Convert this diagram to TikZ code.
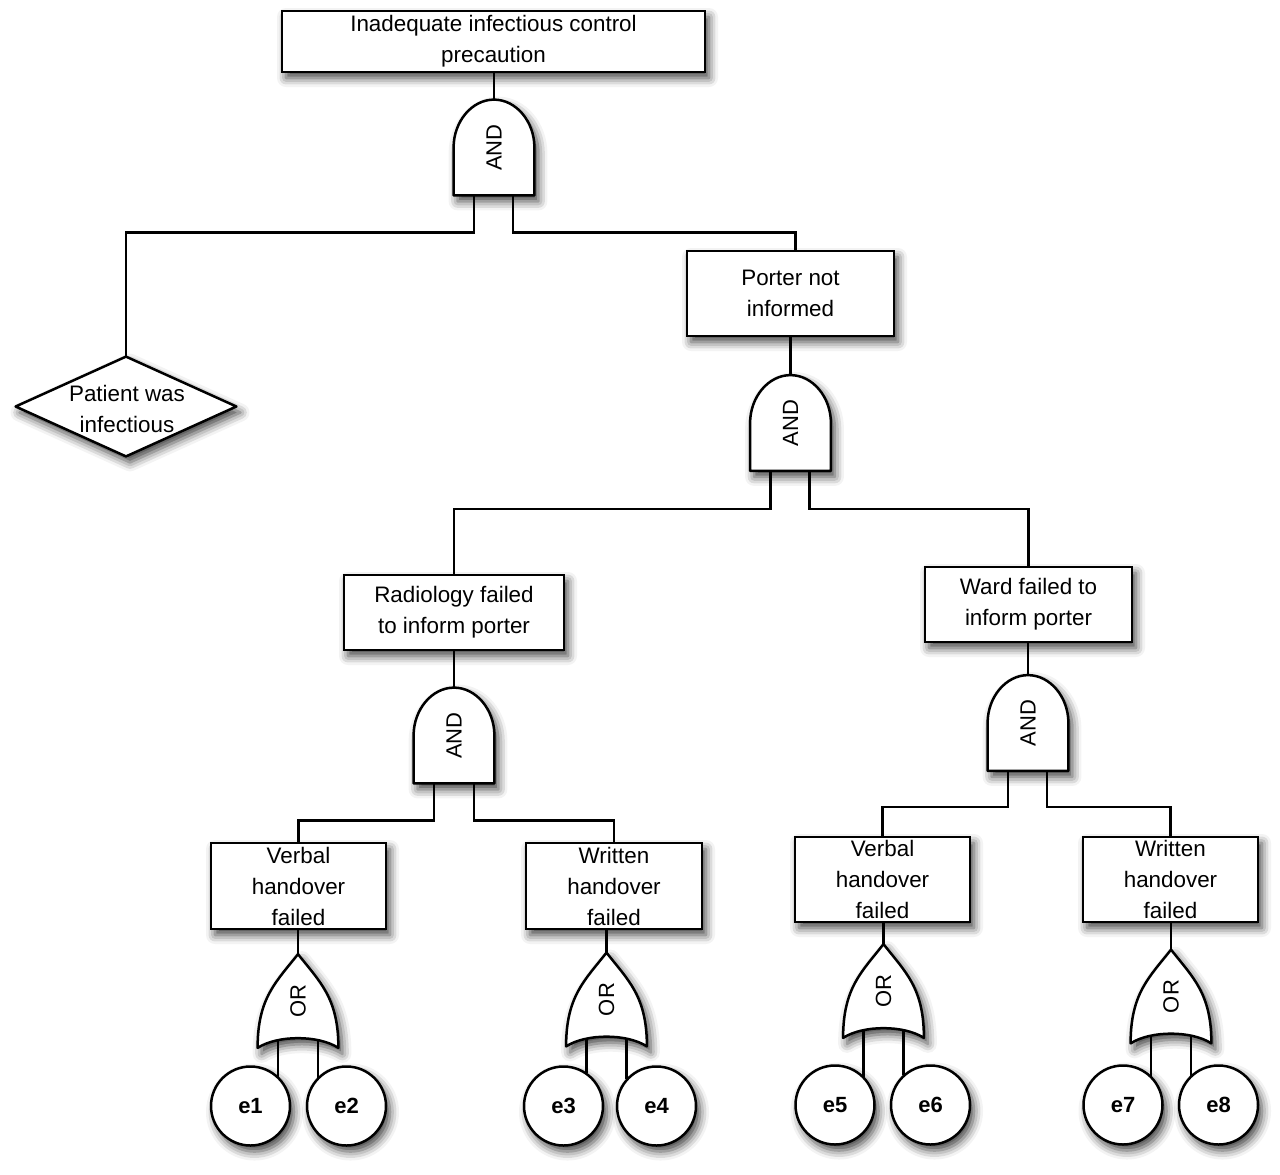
\documentclass[tikz,border=0pt]{standalone}
\usepackage{fontspec}
\setmainfont{Liberation Sans}
\usetikzlibrary{calc,shadows.blur}

\newcommand\AndGate[3]{%
  \node[gatebox] (#1) at (#2,#3) {};
  \path[gateline] (#1.south west) -- ++(0,-48)
     .. controls +(0,-26) and +(-22,0) .. (#1.north)
     .. controls +(22,0) and +(0,-26) .. ($(#1.south east)+(0,-48)$)
     -- (#1.south east) -- cycle;
  \node[gatelabel] at (#1.center) {\rotatebox{90}{AND}};
}
\newcommand\OrGate[3]{%
  \node[gatebox,minimum height=46.5pt] (#1) at (#2,#3) {};
  \path[gateline] (#1.south west)
     .. controls +(0,-50) and +(-22,28) .. (#1.north)
     .. controls +(22,28) and +(0,-50) .. (#1.south east)
     .. controls +(-20,-13) and +(20,-13) .. (#1.south west) -- cycle;
  \node[gatelabel] at (#1.center) {\rotatebox{90}{OR}};
}

\begin{document}
\begin{tikzpicture}[x=0.5pt,y=-0.5pt,
  lw/.style={line width=1.25pt},
  shad/.style={blur shadow={shadow xshift=2pt,shadow yshift=-3pt,shadow blur radius=4.5pt,shadow opacity=75}},
  evbox/.style={draw,lw,fill=white,shad,rectangle,inner sep=0pt,align=center,font=\fontsize{11.2}{15.5}\selectfont},
  gatebox/.style={inner sep=0pt,minimum width=40pt,minimum height=47.5pt},
  gateline/.style={draw,lw,fill=white,shad,line join=round},
  gatelabel/.style={inner sep=0pt,font=\fontsize{11}{13}\selectfont},
  basic/.style={circle,draw,lw,fill=white,shad,minimum size=39.5pt,inner sep=0pt,font=\fontsize{11}{13}\selectfont\bfseries},
  conn/.style={lw},
  txt/.style={inner sep=0pt,align=center,font=\fontsize{11.2}{15.5}\selectfont}]

\useasboundingbox (0,0) rectangle (1280,1174);

% event boxes
\node[evbox,minimum width=211.5pt,minimum height=30.5pt] (top) at (493.5,41.5) {Inadequate infectious control\\precaution};
\node[evbox,minimum width=103.5pt,minimum height=42.5pt] (porter) at (790.5,293.5) {Porter not\\informed};
\node[evbox,minimum width=110pt,minimum height=37.5pt] (rad) at (454,612.5) {Radiology failed\\to inform porter};
\node[evbox,minimum width=103.5pt,minimum height=37.5pt] (ward) at (1028.5,604.5) {Ward failed to\\inform porter};
\node[evbox,minimum width=87.5pt,minimum height=43pt] (verb1) at (298.5,886) {Verbal\\handover\\failed};
\node[evbox,minimum width=88pt,minimum height=43pt] (writ1) at (614,886) {Written\\handover\\failed};
\node[evbox,minimum width=87.5pt,minimum height=42.5pt] (verb2) at (882.5,879.5) {Verbal\\handover\\failed};
\node[evbox,minimum width=87.5pt,minimum height=42.5pt] (writ2) at (1170.5,879.5) {Written\\handover\\failed};

% undeveloped event (diamond)
\node[inner sep=0pt,minimum width=110pt,minimum height=49.5pt] (pat) at (126,406.5) {};
\path[gateline] (pat.north) -- (pat.east) -- (pat.south) -- (pat.west) -- cycle;
\node[txt] (pattxt) at (127,408.5) {Patient was\\infectious};

% gates
\AndGate{g1}{494}{147.5}
\AndGate{g2}{790.5}{423}
\AndGate{g3}{454}{735.5}
\AndGate{g4}{1028}{723}
\OrGate{o1}{298}{1001}
\OrGate{o2}{606.5}{999.5}
\OrGate{o3}{883.5}{991}
\OrGate{o4}{1171}{996.5}

% basic events
\node[basic] (e1) at (250.5,1106) {e1};
\node[basic] (e2) at (346.5,1106) {e2};
\node[basic] (e3) at (563.5,1106) {e3};
\node[basic] (e4) at (656.5,1106) {e4};
\node[basic] (e5) at (835,1105) {e5};
\node[basic] (e6) at (930.5,1105) {e6};
\node[basic] (e7) at (1123,1105) {e7};
\node[basic] (e8) at (1218.5,1105) {e8};

% connectors
\draw[conn] (g1.north |- top.south) -- (g1.north);
\draw[conn] ([xshift=-10pt]g1.south) -- ++(0,37) -| (pat.north);
\draw[conn] ([xshift=9.5pt]g1.south) -- ++(0,37) -| ([xshift=2.5pt]porter.north);
\draw[conn] (g2.north |- porter.south) -- (g2.north);
\draw[conn] ([xshift=-10pt]g2.south) -- ++(0,38) -| (rad.north);
\draw[conn] ([xshift=9.5pt]g2.south) -- ++(0,38) -| (ward.north);
\draw[conn] (g3.north |- rad.south) -- (g3.north);
\draw[conn] ([xshift=-10pt]g3.south) -- ++(0,37) -| (verb1.north);
\draw[conn] ([xshift=10pt]g3.south) -- ++(0,37) -| (writ1.north);
\draw[conn] (g4.north |- ward.south) -- (g4.north);
\draw[conn] ([xshift=-10pt]g4.south) -- ++(0,36) -| (verb2.north);
\draw[conn] ([xshift=9.5pt]g4.south) -- ++(0,36) -| (writ2.north);
\draw[conn] (o1.north |- verb1.south) -- (o1.north);
\draw[conn] (o2.north |- writ1.south) -- (o2.north);
\draw[conn] (o3.north |- verb2.south) -- (o3.north);
\draw[conn] (o4.north |- writ2.south) -- (o4.north);
\draw[conn] ([xshift=-10pt,yshift=3.6pt]o1.south) -- ([xshift=-10pt]o1.south |- e1.46);
\draw[conn] ([xshift=10pt,yshift=3.6pt]o1.south) -- ([xshift=10pt]o1.south |- e2.136);
\draw[conn] ([xshift=-10pt,yshift=3.6pt]o2.south) -- ([xshift=-10pt]o2.south |- e3.54);
\draw[conn] ([xshift=10pt,yshift=3.6pt]o2.south) -- ([xshift=10pt]o2.south |- e4.139);
\draw[conn] ([xshift=-10pt,yshift=3.6pt]o3.south) -- ([xshift=-10pt]o3.south |- e5.44);
\draw[conn] ([xshift=10pt,yshift=3.6pt]o3.south) -- ([xshift=10pt]o3.south |- e6.133);
\draw[conn] ([xshift=-10pt,yshift=3.6pt]o4.south) -- ([xshift=-10pt]o4.south |- e7.45);
\draw[conn] ([xshift=10pt,yshift=3.6pt]o4.south) -- ([xshift=10pt]o4.south |- e8.134);
\end{tikzpicture}
\end{document}
